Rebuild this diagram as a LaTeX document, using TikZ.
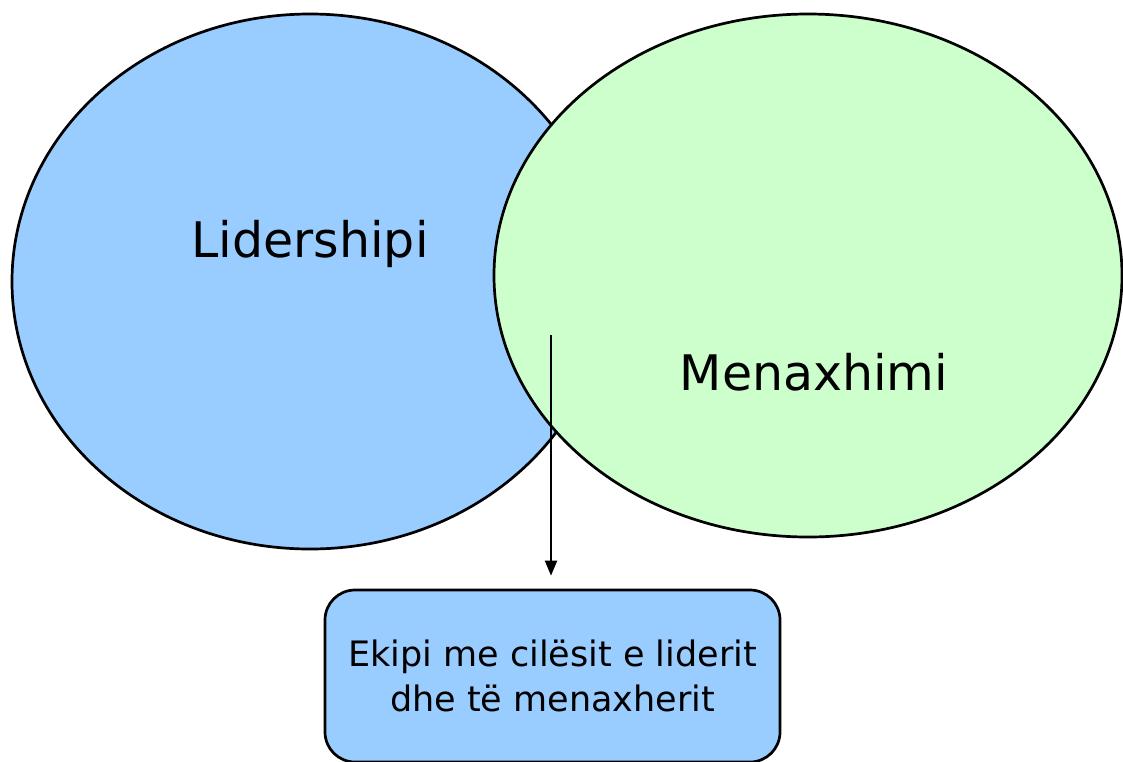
\documentclass[tikz,border=0pt]{standalone}
\usepackage{fontspec}
\setmainfont{DejaVu Sans}
\usetikzlibrary{shapes.geometric,arrows.meta}
\definecolor{lblue}{HTML}{99CCFF}
\definecolor{lgreen}{HTML}{CCFFCC}
\begin{document}
\begin{tikzpicture}[x=1pt,y=-1pt,
  blob/.style={ellipse,draw=black,line width=2.7pt,inner sep=0pt,outer sep=0pt},
  lbl/.style={inner sep=0pt,font=\fontsize{49}{56}\selectfont},
  resultbox/.style={draw=black,line width=2.7pt,fill=lblue,rounded corners=30pt,inner sep=0pt,minimum width=455pt,minimum height=172pt,align=center,font=\fontsize{35}{45}\selectfont},
  conn/.style={line width=2pt,-{Triangle[length=15pt,width=12pt]}}]
\useasboundingbox (0,0) rectangle (1123,761);
\node[blob,fill=lblue,minimum width=596pt,minimum height=535pt] (lead) at (310,281.5) {};
\node[blob,fill=lgreen,minimum width=628pt,minimum height=523pt] (man) at (808,275.5) {};
\node[lbl] (leadtxt) at (310,244) {Lidershipi};
\node[lbl] (mantxt) at (814,372) {Menaxhimi};
\node[resultbox] (team) at (552.5,676) {Ekipi me cilësit e liderit\\dhe të menaxherit};
\coordinate (start) at (551,335);
\draw[conn,shorten >=13pt] (start) -- (start |- team.north);
\end{tikzpicture}
\end{document}
